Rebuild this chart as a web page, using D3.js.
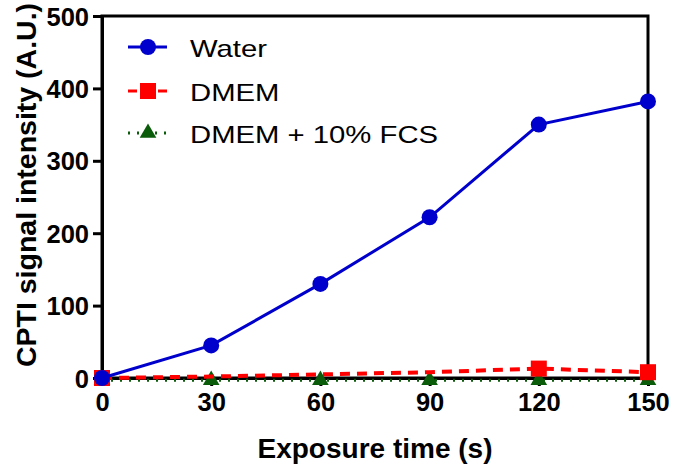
<!DOCTYPE html>
<html><head><meta charset="utf-8">
<script src="https://cdn.jsdelivr.net/npm/d3@7"></script>
<style>body{margin:0;background:#fff}svg{display:block}</style>
</head><body><svg id="c" width="675" height="471"></svg>
<script>
const times = [0, 30, 60, 90, 120, 150];
const water = [0, 45, 130, 222, 350, 382];
const dmem = [0, 2, 5, 8, 13, 8];
const fcs = [-3, -3, -3, -3, -3, -3];
const dmemMarkerIdx = [0, 4, 5];
const xTicks = [0, 30, 60, 90, 120, 150];
const yTicks = [0, 100, 200, 300, 400, 500];
const seriesNames = ["Water", "DMEM", "DMEM + 10% FCS"];

const svg = d3.select("#c");
const L = 102, R = 648, T = 16, B = 378;
const x = d3.scaleLinear().domain([0,150]).range([L,R]);
const y = d3.scaleLinear().domain([0,500]).range([B,T]);
const font = "Arial, 'Liberation Sans', sans-serif";

svg.append("rect").attr("x",L).attr("y",T).attr("width",R-L).attr("height",B-T)
  .attr("fill","none").attr("stroke","#000").attr("stroke-width",3);

const xa = svg.append("g").attr("transform",`translate(0,${B})`)
  .call(d3.axisBottom(x).tickValues(xTicks).tickSize(8).tickPadding(7));
const ya = svg.append("g").attr("transform",`translate(${L},0)`)
  .call(d3.axisLeft(y).tickValues(yTicks).tickSize(9).tickPadding(4));
[xa,ya].forEach(a=>{
  a.select(".domain").attr("stroke","#000").attr("stroke-width",3);
  a.selectAll(".tick line").attr("stroke","#000").attr("stroke-width",3);
  a.selectAll(".tick text").attr("font-family",font).attr("font-weight","bold")
    .attr("font-size",25.5).attr("fill","#000");
});
ya.selectAll(".tick text").attr("dy","0.36em");

svg.append("text").attr("x",(L+R)/2).attr("y",458).attr("text-anchor","middle")
  .attr("font-family",font).attr("font-weight","bold").attr("font-size",28).text("Exposure time (s)");
svg.append("text").attr("transform",`translate(36,${185}) rotate(-90)`).attr("text-anchor","middle")
  .attr("font-family",font).attr("font-weight","bold").attr("font-size",28.5).text("CPTI signal intensity (A.U.)");

const line = d3.line().x((d,i)=>x(times[i])).y(d=>y(d));
function marker(g, shape, cx, cy, color){
  if(shape==="circ") g.append("circle").attr("cx",cx).attr("cy",cy).attr("r",8).attr("fill",color);
  else if(shape==="sq") g.append("rect").attr("x",cx-8).attr("y",cy-8).attr("width",16).attr("height",16).attr("fill",color);
  else g.append("path").attr("d",d3.symbol(d3.symbolTriangle,120)()).attr("transform",`translate(${cx},${cy})`).attr("fill",color);
}
const series = [
  {vals: fcs, color:"#0a5c0a", dash:"2,7", w:3, shape:"tri", idx: times.map((d,i)=>i)},
  {vals: dmem, color:"#ff0000", dash:"10,7", w:4, shape:"sq", idx: dmemMarkerIdx},
  {vals: water, color:"#0000cc", dash:null, w:3, shape:"circ", idx: times.map((d,i)=>i)}
];
series.forEach(s=>{
  svg.append("path").attr("d",line(s.vals)).attr("fill","none").attr("stroke",s.color)
    .attr("stroke-width",s.w).attr("stroke-dasharray",s.dash);
  const g = svg.append("g");
  s.idx.forEach(i=>marker(g,s.shape,x(times[i]),y(s.vals[i]),s.color));
});

const leg = [
  {name:seriesNames[0], color:"#0000cc", dash:null, shape:"circ", y:47},
  {name:seriesNames[1], color:"#ff0000", dash:"9,6", shape:"sq", y:91},
  {name:seriesNames[2], color:"#0a5c0a", dash:"2,7", shape:"tri", y:133}
];
leg.forEach(l=>{
  svg.append("line").attr("x1",128).attr("x2",167).attr("y1",l.y).attr("y2",l.y)
    .attr("stroke",l.color).attr("stroke-width",3).attr("stroke-dasharray",l.dash);
  marker(svg,l.shape,148,l.y,l.color);
  svg.append("text").attr("transform",`translate(190,${l.y+10}) scale(1.22,1)`).attr("font-family",font)
    .attr("font-size",24).attr("fill","#000").text(l.name);
});
</script></body></html>
